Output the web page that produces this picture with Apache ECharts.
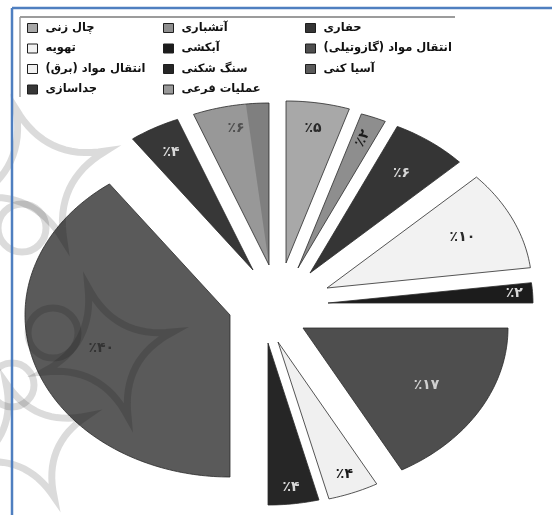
<!DOCTYPE html>
<html>
<head>
<meta charset="utf-8">
<script src="https://cdn.jsdelivr.net/npm/echarts@6/dist/echarts.min.js"></script>
<style>
  html, body { margin: 0; padding: 0; background: #ffffff; }
  #chart { width: 552px; height: 515px; }
</style>
</head>
<body>
<div id="chart"></div>
<script>
// Mining activities, clockwise from 12 o'clock (same order as the legend rows)
const categories = [
  'چال زنی', 'آتشباری', 'حفاری',
  'تهویه', 'آبکشی', 'انتقال مواد (گازوتیلی)',
  'انتقال مواد (برق)', 'سنگ شکنی', 'آسیا کنی',
  'جداسازی', 'عملیات فرعی'
];
// Share of each activity, percent
const shares = [5, 2, 6, 10, 2, 17, 4, 4, 40, 4, 6];

// Legend columns (indices into categories), left to right
const legendColumns = [[0, 3, 6, 9], [1, 4, 7, 10], [2, 5, 8]];

// ---- styling / layout ----
const sliceColors = ['#a8a8a8', '#8e8e8e', '#353535', '#f2f2f2', '#1c1c1c', '#4e4e4e',
                     '#f0f0f0', '#262626', '#5a5a5a', '#373737', '#989898'];
const labelColors = ['#2a2a2a', '#1a1a1a', '#d8d8d8', '#2a2a2a', '#d8d8d8', '#cfcfcf',
                     '#1a1a1a', '#d8d8d8', '#333333', '#d8d8d8', '#505050'];
// Exploded offset of each slice from the pie centre (px)
const explode = [[10, -40], [22, -35], [34, -30], [51, -15], [52, 0], [27, 25],
                 [2, 39], [-8, 40], [-46, 12], [-23, -33], [-7, -38]];
// Label distance along the slice bisector, as a fraction of the radius
const labelDist = [0.84, 0.86, 0.76, 0.73, 0.91, 0.7, 0.88, 0.9, 0.66, 0.83, 0.86];
const labelRotate = [0, 65, 0, 0, 0, 0, 0, 0, 0, 0, 0];
// Darker side face on part of a slice (fraction of its sweep, at the end)
const sideShade = [0, 0, 0, 0, 0, 0, 0, 0, 0, 0, 0.3];

const CX = 276, CY = 303, RX = 205, RY = 162;   // tilted (elliptical) pie
const total = shares.reduce((a, b) => a + b, 0);
const startShare = shares.map((_, i) => shares.slice(0, i).reduce((a, b) => a + b, 0));

const persianDigits = '۰۱۲۳۴۵۶۷۸۹';
const toPersian = n => String(n).replace(/\d/g, d => persianDigits[+d]);

function ellipsePt(ax, ay, ang, f) {
  return [ax + RX * f * Math.sin(ang), ay - RY * f * Math.cos(ang)];
}

function wedge(ax, ay, a0, a1) {
  const pts = [[ax, ay]];
  const steps = Math.max(4, Math.ceil((a1 - a0) / 0.02));
  for (let k = 0; k <= steps; k++) {
    pts.push(ellipsePt(ax, ay, a0 + (a1 - a0) * k / steps, 1));
  }
  return pts;
}

function renderSlice(params, api) {
  const i = params.seriesIndex;
  const value = api.value(0);
  const a0 = startShare[i] / total * Math.PI * 2;
  const a1 = a0 + value / total * Math.PI * 2;
  const ax = CX + explode[i][0], ay = CY + explode[i][1];
  const children = [{
    type: 'polygon',
    shape: { points: wedge(ax, ay, a0, a1) },
    style: { fill: api.visual('color'), stroke: '#2b2b2b', lineWidth: 0.8 }
  }];
  if (sideShade[i] > 0) {
    const s0 = a1 - (a1 - a0) * sideShade[i];
    children.push({
      type: 'polygon',
      shape: { points: wedge(ax, ay, s0, a1) },
      style: { fill: 'rgba(0,0,0,0.16)', stroke: null }
    });
  }
  const mid = (a0 + a1) / 2;
  const lp = ellipsePt(ax, ay, mid, labelDist[i]);
  children.push({
    type: 'text',
    x: lp[0], y: lp[1],
    rotation: labelRotate[i] * Math.PI / 180,
    style: {
      text: '٪' + toPersian(value),
      fill: labelColors[i],
      font: 'bold 14px "DejaVu Sans"',
      align: 'center', verticalAlign: 'middle'
    }
  });
  return { type: 'group', children };
}

const series = categories.map((name, i) => ({
  type: 'custom',
  name,
  coordinateSystem: 'none',
  data: [shares[i]],
  itemStyle: { color: sliceColors[i] },
  renderItem: renderSlice,
  silent: true
}));

const legendLeft = [27, 163, 305];
const legend = legendColumns.map((col, c) => ({
  orient: 'vertical',
  left: legendLeft[c],
  top: 21,
  padding: 0,
  itemGap: 6.5,
  itemWidth: 10,
  itemHeight: 9,
  icon: 'rect',
  selectedMode: false,
  data: col.map(k => categories[k]),
  formatter: name => '\u200F' + name + '\u200F',
  itemStyle: { borderColor: '#1e1e1e', borderWidth: 1 },
  textStyle: {
    fontFamily: 'DejaVu Sans', fontWeight: 'bold', fontSize: 11.5,
    color: '#111', lineHeight: 14, padding: [0, 0, 0, 3]
  }
}));

// Faint arabesque watermark on the left side: concave four-point stars and rings
function concaveStar(cx, cy, r, rot) {
  const tips = [0, 1, 2, 3].map(k => {
    const a = rot + k * Math.PI / 2;
    return [cx + r * Math.cos(a), cy + r * Math.sin(a)];
  });
  const pts = [];
  for (let k = 0; k < 4; k++) {
    const a = rot + (k + 0.5) * Math.PI / 2;
    const c = [cx + r * 0.22 * Math.cos(a), cy + r * 0.22 * Math.sin(a)];
    const p0 = tips[k], p1 = tips[(k + 1) % 4];
    for (let s = 0; s < 16; s++) {
      const t = s / 16, u = 1 - t;
      pts.push([u * u * p0[0] + 2 * u * t * c[0] + t * t * p1[0],
                u * u * p0[1] + 2 * u * t * c[1] + t * t * p1[1]]);
    }
  }
  return pts;
}
const wmStroke = 'rgba(0,0,0,0.14)';
const watermark = [
  { type: 'polygon', shape: { points: concaveStar(40, 175, 70, -0.35) } },
  { type: 'circle', shape: { cx: 22, cy: 228, r: 24 } },
  { type: 'polygon', shape: { points: concaveStar(108, 352, 68, -0.3) } },
  { type: 'circle', shape: { cx: 53, cy: 333, r: 25 } },
  { type: 'polygon', shape: { points: concaveStar(30, 440, 62, -0.4) } },
  { type: 'circle', shape: { cx: 12, cy: 385, r: 22 } }
].map(el => Object.assign(el, {
  z: 50, silent: true,
  style: { fill: 'none', stroke: wmStroke, lineWidth: 7 }
}));

const frame = [
  { type: 'line', shape: { x1: 12, y1: 8, x2: 552, y2: 8 },
    style: { stroke: '#4f7fc0', lineWidth: 2.5 }, z: 60 },
  { type: 'line', shape: { x1: 12, y1: 8, x2: 12, y2: 515 },
    style: { stroke: '#4f7fc0', lineWidth: 2.5 }, z: 60 },
  { type: 'line', shape: { x1: 20, y1: 17, x2: 455, y2: 17 },
    style: { stroke: '#9c9c9c', lineWidth: 2 }, z: 60 },
  { type: 'line', shape: { x1: 20, y1: 17, x2: 20, y2: 97 },
    style: { stroke: '#9c9c9c', lineWidth: 1.5 }, z: 60 }
];

const chart = echarts.init(document.getElementById('chart'), null, { renderer: 'canvas' });
chart.setOption({
  backgroundColor: '#ffffff',
  animation: false,
  legend,
  series,
  graphic: { elements: watermark.concat(frame) }
});
</script>
</body>
</html>
